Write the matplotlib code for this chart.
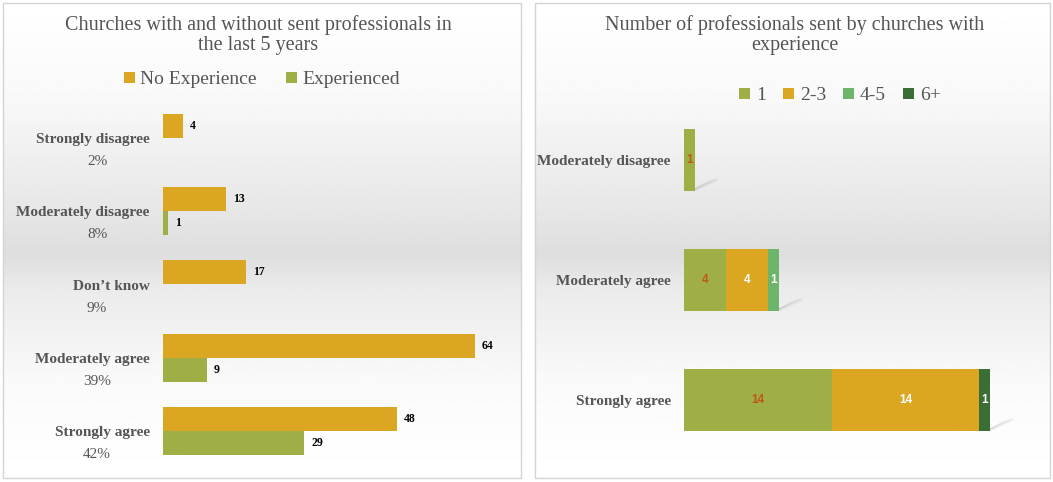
import matplotlib
matplotlib.use('Agg')
import matplotlib.pyplot as plt
import numpy as np
from matplotlib.patches import Rectangle, Polygon

# Left panel: churches with / without sent professionals
left_cats = ['Strongly disagree', 'Moderately disagree', "Don\u2019t know",
             'Moderately agree', 'Strongly agree']
left_pct = ['2%', '8%', '9%', '39%', '42%']
no_exp = [4, 13, 17, 64, 48]
exp = [0, 1, 0, 9, 29]

# Right panel: number of professionals sent (stacked)
right_cats = ['Moderately disagree', 'Moderately agree', 'Strongly agree']
size_groups = ['1', '2-3', '4-5', '6+']
sent_1 = [1, 4, 14]
sent_2_3 = [0, 4, 14]
sent_4_5 = [0, 1, 0]
sent_6 = [0, 0, 1]

ORANGE = '#DBA722'
OLIVE = '#A0AE46'
GREEN45 = '#6DB56A'
DKGREEN = '#3A6E35'
TXT = '#555555'
SERIF = ['Liberation Serif', 'DejaVu Serif']

W, H = 1053, 482
fig = plt.figure(figsize=(W / 100, H / 100), dpi=100)
fig.patch.set_facecolor('white')


def px_axes(x0, y0, x1, y1, **kw):
    return fig.add_axes([x0 / W, 1 - y1 / H, (x1 - x0) / W, (y1 - y0) / H], **kw)


# panel backgrounds with the soft grey band
bg = px_axes(0, 0, W, H, zorder=-5)
bg.set_xlim(0, W)
bg.set_ylim(H, 0)
bg.axis('off')
ys = np.linspace(0, 1, 200)
stops_y = [0.0, 0.2, 0.45, 0.53, 0.6, 0.8, 1.0]
stops_v = [1.0, 0.975, 0.9, 0.87, 0.92, 0.98, 1.0]
grad = np.interp(ys, stops_y, stops_v)[:, None] * np.ones((1, 2))
for (x0, x1) in [(3, 521), (535, 1050)]:
    bg.imshow(grad, cmap='gray', vmin=0, vmax=1, aspect='auto',
              extent=(x0, x1, 478, 3), zorder=0)
    bg.add_patch(Rectangle((x0, 3), x1 - x0, 475, fill=False,
                           edgecolor='#d4d4d4', linewidth=1.0, zorder=1))

# ---- left chart ----
ax = px_axes(163, 101.5, 163 + 68 * 4.875, 467.5)
ax.patch.set_alpha(0)
y = np.arange(len(left_cats))
h = 0.33
ax.barh(y - h / 2, no_exp, height=h, color=ORANGE, label='No Experience')
ax.barh(y + h / 2, exp, height=h, color=OLIVE, label='Experienced')
for yi, v in zip(y, no_exp):
    ax.annotate(str(v), xy=(v, yi - h / 2), xytext=(5, 0), textcoords='offset points',
                va='center', ha='left', fontsize=8.5, fontweight='bold', family=SERIF)
for yi, v in zip(y, exp):
    if v:
        ax.annotate(str(v), xy=(v, yi + h / 2), xytext=(5, 0), textcoords='offset points',
                    va='center', ha='left', fontsize=8.5, fontweight='bold', family=SERIF)
ax.set_xlim(0, 68)
ax.set_ylim(len(left_cats) - 0.5, -0.5)
ax.set_yticks(y)
ax.set_yticklabels(left_cats, fontsize=11, fontweight='bold', color=TXT, family=SERIF)
ax.tick_params(axis='y', length=0, pad=9.5)
ax.set_xticks([])
for s in ax.spines.values():
    s.set_visible(False)
for yi, p in zip(y, left_pct):
    ax.annotate(p, xy=(0, yi), xycoords=('axes fraction', 'data'), xytext=(-47.5, -17),
                textcoords='offset points', ha='center', va='center', fontsize=11,
                color=TXT, family=SERIF)

fig.text(258 / W, 1 - 35 / H, 'Churches with and without sent professionals in\nthe last 5 years',
         ha='center', va='center', fontsize=14.5, color=TXT, family=SERIF, linespacing=1.1)
fig.legend(*ax.get_legend_handles_labels(), loc='center', bbox_to_anchor=(262 / W, 1 - 80 / H),
           ncol=2, frameon=False, prop={'family': SERIF, 'size': 14},
           handlelength=0.55, handleheight=0.55, handletextpad=0.3, columnspacing=1.5,
           labelcolor=TXT)

# ---- right chart ----
ax2 = px_axes(684, 100, 684 + 32 * 10.55, 460)
ax2.patch.set_alpha(0)
yr = np.arange(len(right_cats))
hr = 0.51
series = [sent_1, sent_2_3, sent_4_5, sent_6]
colors = [OLIVE, ORANGE, GREEN45, DKGREEN]
lab_colors = ['#C0561A', 'white', 'white', 'white']
left = np.zeros(len(right_cats))
for name, vals, c, lc in zip(size_groups, series, colors, lab_colors):
    vals = np.array(vals, dtype=float)
    ax2.barh(yr, vals, left=left, height=hr, color=c, label=name, zorder=3)
    for yi, l0, v in zip(yr, left, vals):
        if v:
            ax2.text(l0 + v / 2, yi, str(int(v)), ha='center', va='center', zorder=4,
                     fontsize=8.5, fontweight='bold', color=lc, family='Liberation Sans')
    left += vals
ax2.set_xlim(0, 32)
ax2.set_ylim(len(right_cats) - 0.5, -0.5)
ax2.set_yticks(yr)
ax2.set_yticklabels(right_cats, fontsize=11, fontweight='bold', color=TXT, family=SERIF)
ax2.tick_params(axis='y', length=0, pad=9.5)
ax2.set_xticks([])
for s in ax2.spines.values():
    s.set_visible(False)

# slanted soft shadow at the end of each stacked bar
for yi, tot in zip(yr, left):
    xr, yb = ax2.transData.transform((tot, yi + hr / 2))
    yb = H - yb
    for k in range(6):
        d = k * 0.6
        shadow = Polygon([(xr, yb - 3 + d), (xr + 24 - 2 * k, yb - 13 + d),
                          (xr + 24 - 2 * k, yb - 10 - d * 0.3), (xr, yb + 1 - d)],
                         closed=True, facecolor='#606060', edgecolor='none',
                         alpha=0.05, zorder=2)
        bg.add_patch(shadow)

fig.text(795 / W, 1 - 35 / H, 'Number of professionals sent by churches with\nexperience',
         ha='center', va='center', fontsize=14.5, color=TXT, family=SERIF, linespacing=1.1)
fig.legend(*ax2.get_legend_handles_labels(), loc='center', bbox_to_anchor=(840 / W, 1 - 96 / H),
           ncol=4, frameon=False, prop={'family': SERIF, 'size': 14},
           handlelength=0.55, handleheight=0.55, handletextpad=0.3, columnspacing=0.9,
           labelcolor=TXT)

fig.savefig('out.png', dpi=100)
